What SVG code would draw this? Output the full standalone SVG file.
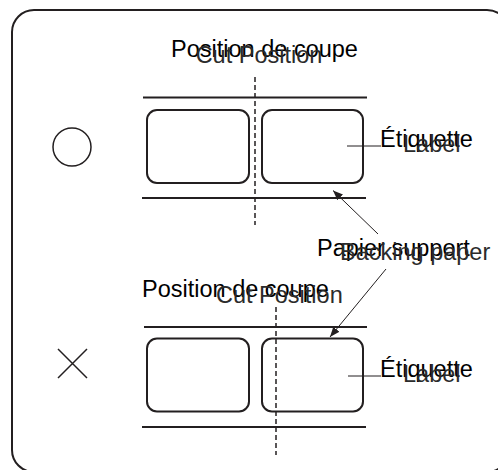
<svg xmlns="http://www.w3.org/2000/svg" width="498" height="470" viewBox="0 0 498 470">
<defs>
<style>
.frame{fill:none;stroke:#231f20;stroke-width:2}
.lbl{fill:#fff;stroke:#231f20;stroke-width:2}
.rail{stroke:#231f20;stroke-width:2}
.cut{stroke:#231f20;stroke-width:1.5;stroke-dasharray:5 3}
.lead{stroke:#231f20;stroke-width:1;fill:none}
.sym{fill:none;stroke:#231f20;stroke-width:1.5}
.fr{font-family:"Liberation Sans",Arial,sans-serif;font-size:23.5px;fill:#000}
.en{font-family:"Liberation Sans",Arial,sans-serif;font-size:23.5px;fill:#2b2b2b}
</style>
<marker id="ah" viewBox="0 0 10 10" refX="10" refY="5" markerWidth="10" markerHeight="10" markerUnits="userSpaceOnUse" orient="auto">
<path d="M0,1 L10,5 L0,9 z" fill="#231f20"/>
</marker>
</defs>
<rect class="frame" x="12" y="10" width="497" height="462" rx="22"/>
<g id="good">
<circle class="sym" cx="72" cy="147" r="19"/>
<line class="rail" x1="143" y1="97.5" x2="367" y2="97.5"/>
<line class="rail" x1="142" y1="198" x2="366" y2="198"/>
<rect class="lbl" x="147" y="110" width="102" height="73" rx="10"/>
<rect class="lbl" x="262" y="110" width="101" height="73" rx="10"/>
<line class="cut" x1="255" y1="77" x2="255" y2="225"/>
<text class="fr" x="264.5" y="57" text-anchor="middle">Position de coupe</text>
<text class="en" x="259" y="63" text-anchor="middle">Cut Position</text>
<line class="lead" x1="347" y1="146" x2="381" y2="146"/>
<text class="fr" x="380" y="146.5">Étiquette</text>
<text class="en" x="403" y="152">Label</text>
</g>
<g id="bad">
<path class="sym" d="M58,349 L87,378 M87,349 L58,378"/>
<line class="rail" x1="144" y1="327" x2="367" y2="327"/>
<line class="rail" x1="142" y1="427" x2="366" y2="427"/>
<rect class="lbl" x="147" y="338.5" width="102" height="73" rx="10"/>
<rect class="lbl" x="262" y="338.5" width="101" height="73" rx="10"/>
<line class="cut" x1="276" y1="307" x2="276" y2="455"/>
<text class="fr" x="142" y="297">Position de coupe</text>
<text class="en" x="216" y="303">Cut Position</text>
<line class="lead" x1="348" y1="376" x2="381" y2="376"/>
<text class="fr" x="380" y="376.5">Étiquette</text>
<text class="en" x="403" y="382">Label</text>
</g>
<g id="backing">
<text class="fr" x="317" y="256">Papier support</text>
<text class="en" x="340" y="260">Backing paper</text>
</g>
<g id="connectors">
<line class="lead" x1="378" y1="234" x2="333" y2="190.5" marker-end="url(#ah)"/>
<line class="lead" x1="386" y1="269" x2="330" y2="337" marker-end="url(#ah)"/>
</g>
</svg>
